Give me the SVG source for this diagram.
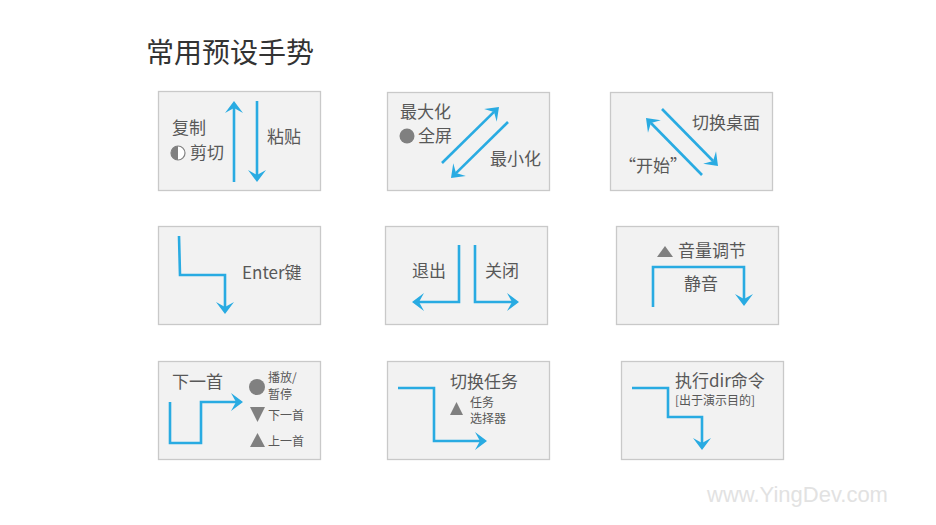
<svg xmlns="http://www.w3.org/2000/svg" width="936" height="525" viewBox="0 0 936 525">
<style>
.box{fill:#f2f2f2;stroke:#c9c9c9;stroke-width:1.3}
.ln{fill:none;stroke:#29abe2;stroke-width:2.6}
.t{font-family:"Noto Sans CJK SC","Liberation Sans",sans-serif;fill:#585858;font-size:17px}
.s{font-family:"Noto Sans CJK SC","Liberation Sans",sans-serif;fill:#585858;font-size:12px}
.ic{fill:#808080}
</style>
<defs>
<marker id="ah" markerUnits="userSpaceOnUse" orient="auto" markerWidth="30" markerHeight="30" refX="0" refY="0" viewBox="-15 -15 30 30" overflow="visible">
<path d="M7,0 L-5,-9 L0,0 L-5,9 Z" fill="#29abe2"/>
</marker>
</defs>
<rect width="936" height="525" fill="#fff"/>
<text x="146" y="63" font-family="Noto Sans CJK SC,Liberation Sans,sans-serif" font-size="28" fill="#333">常用预设手势</text>

<g id="copy-paste">
<rect class="box" x="158.5" y="91.5" width="162" height="99"/>
<text class="t" x="172" y="134">复制</text>
<circle cx="178" cy="153" r="7" fill="#fff" stroke="#808080" stroke-width="1.2"/>
<path d="M178,146 A7,7 0 0 0 178,160 Z" class="ic"/>
<text class="t" x="190" y="159">剪切</text>
<text class="t" x="267" y="143">粘贴</text>
</g>

<g id="maximize">
<rect class="box" x="387.5" y="92.5" width="162" height="98"/>
<text class="t" x="400" y="118">最大化</text>
<circle cx="407" cy="136" r="7.5" class="ic"/>
<text class="t" x="418" y="142">全屏</text>
<text class="t" x="490" y="165">最小化</text>
</g>

<g id="desktop">
<rect class="box" x="610.5" y="92.5" width="162" height="98"/>
<text class="t" x="692" y="129">切换桌面</text>
<text class="t" x="619" y="172">“开始”</text>
</g>

<g id="enter">
<rect class="box" x="158.5" y="226.5" width="162" height="98"/>
<text class="t" x="242" y="279" font-size="16">Enter键</text>
</g>

<g id="exit-close">
<rect class="box" x="385.5" y="226.5" width="162" height="98"/>
<text class="t" x="412" y="277">退出</text>
<text class="t" x="485" y="277">关闭</text>
</g>

<g id="volume">
<rect class="box" x="616.5" y="226.5" width="162" height="98"/>
<path d="M657,257 L665,246 L673,257 Z" class="ic"/>
<text class="t" x="678" y="257">音量调节</text>
<text class="t" x="684" y="290">静音</text>
</g>

<g id="next-track">
<rect class="box" x="158.5" y="361.5" width="162" height="98"/>
<text class="t" x="172" y="388">下一首</text>
<circle cx="257" cy="387" r="8" class="ic"/>
<text class="s" x="268" y="382">播放/</text>
<text class="s" x="268" y="399">暂停</text>
<path d="M250,407 L265,407 L257.5,422 Z" class="ic"/>
<text class="s" x="268" y="420">下一首</text>
<path d="M250,447 L265,447 L257.5,433 Z" class="ic"/>
<text class="s" x="268" y="446">上一首</text>
</g>

<g id="task-switch">
<rect class="box" x="387.5" y="361.5" width="162" height="98"/>
<text class="t" x="450" y="388">切换任务</text>
<path d="M450,415 L463,415 L456.5,402 Z" class="ic"/>
<text class="s" x="470" y="407">任务</text>
<text class="s" x="470" y="423">选择器</text>
</g>

<g id="dir-command">
<rect class="box" x="621.5" y="361.5" width="162" height="98"/>
<text class="t" x="675" y="387">执行dir命令</text>
<text class="s" x="675" y="405">[出于演示目的]</text>
</g>

<g id="connectors">
<line class="ln" x1="234" y1="182" x2="234" y2="108" marker-end="url(#ah)"/>
<line class="ln" x1="257" y1="101" x2="257" y2="175" marker-end="url(#ah)"/>
<line class="ln" x1="442" y1="163" x2="494" y2="111.9" marker-end="url(#ah)"/>
<line class="ln" x1="508" y1="122" x2="456" y2="173.1" marker-end="url(#ah)"/>
<line class="ln" x1="662" y1="109" x2="713.1" y2="161" marker-end="url(#ah)"/>
<line class="ln" x1="702" y1="175" x2="650.9" y2="123" marker-end="url(#ah)"/>
<polyline class="ln" points="179,236 180,275 225,275 225,307" marker-end="url(#ah)"/>
<polyline class="ln" points="459,245 459,302 419,302" marker-end="url(#ah)"/>
<polyline class="ln" points="475,245 475,302 512,302" marker-end="url(#ah)"/>
<polyline class="ln" points="653,307 653,267 744,267 744,299" marker-end="url(#ah)"/>
<polyline class="ln" points="170,402 170,443 201,443 201,402 236,402" marker-end="url(#ah)"/>
<polyline class="ln" points="398,388 434,388 434,441 480,441" marker-end="url(#ah)"/>
<polyline class="ln" points="632,388 668,388 668,417 702,417 702,443" marker-end="url(#ah)"/>
</g>

<text x="707" y="502" font-family="Liberation Sans,Arial,sans-serif" font-size="22" fill="#e2e2e2">www.YingDev.com</text>
</svg>
